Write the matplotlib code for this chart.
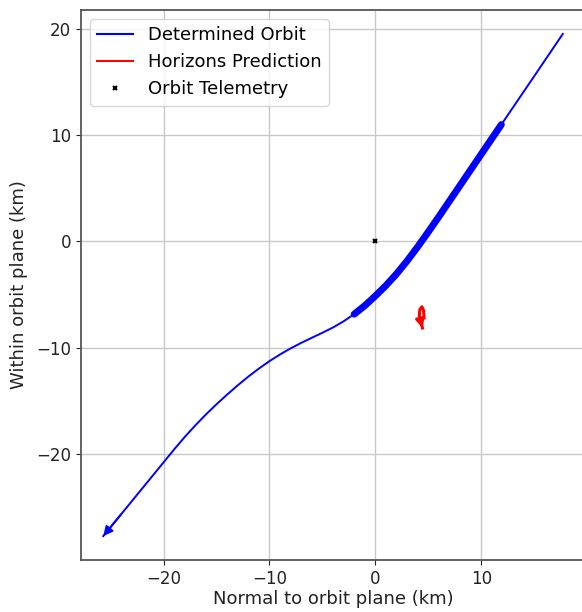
import matplotlib
matplotlib.use("Agg")
import matplotlib.pyplot as plt

# Determined orbit, projected (km): full track, from the far end to the near end
orbit_x = [-25.7, -24.0, -22.0, -20.0, -19.0, -18.0, -17.0, -16.0, -15.0, -14.0,
           -13.0, -12.0, -11.0, -10.0, -9.0, -8.0, -7.0, -6.0, -5.0, -4.0, -3.0,
           -2.0, -1.0, 0.0, 1.0, 2.0, 3.0, 4.0, 5.0, 6.0, 7.0, 8.0, 9.0, 10.0,
           11.0, 11.9, 14.8, 17.7]
orbit_y = [-27.75, -25.68, -23.24, -20.8, -19.58, -18.41, -17.32, -16.29, -15.33,
           -14.42, -13.55, -12.73, -11.97, -11.27, -10.64, -10.07, -9.55, -9.07,
           -8.6, -8.1, -7.52, -6.85, -6.05, -5.13, -4.15, -3.05, -1.83, -0.5, 0.9,
           2.34, 3.81, 5.28, 6.75, 8.22, 9.69, 11.01, 15.27, 19.54]

# Observed arc of the determined orbit (drawn heavier)
arc_x = [-2.0, -1.0, 0.0, 1.0, 2.0, 3.0, 4.0, 5.0, 6.0, 7.0, 8.0, 9.0, 10.0, 11.0, 11.9]
arc_y = [-6.85, -6.05, -5.13, -4.15, -3.05, -1.83, -0.5, 0.9, 2.34, 3.81, 5.28,
         6.75, 8.22, 9.69, 11.01]

# Horizons prediction (km)
hor_x = [4.6, 4.55, 4.4, 4.2, 4.15, 4.3, 4.45]
hor_y = [-7.2, -6.5, -6.15, -6.4, -7.0, -7.6, -8.15]

# Telemetry point
tel_x = [0.0]
tel_y = [0.0]

fig = plt.figure(figsize=(5.82, 6.12), dpi=100)
ax = fig.add_axes([81 / 582, 52 / 612, 504 / 582, 550 / 612])

ax.plot(orbit_x, orbit_y, color="blue", lw=1.4, label="Determined Orbit",
        solid_joinstyle="round", zorder=3)
ax.plot(arc_x, arc_y, color="blue", lw=5, solid_capstyle="round",
        solid_joinstyle="round", zorder=3)
ax.annotate("", xy=(orbit_x[0], orbit_y[0]), xytext=(orbit_x[1], orbit_y[1]),
            arrowprops=dict(arrowstyle="-|>", color="blue", lw=1.4,
                            mutation_scale=14, shrinkA=0, shrinkB=0), zorder=4)

ax.plot(hor_x, hor_y, color="red", lw=2.2, label="Horizons Prediction",
        solid_joinstyle="round", zorder=3)
ax.annotate("", xy=(hor_x[-1], hor_y[-1]), xytext=(hor_x[-2], hor_y[-2]),
            arrowprops=dict(arrowstyle="-|>", color="red", lw=2.2,
                            mutation_scale=12, shrinkA=0, shrinkB=0), zorder=4)

ax.plot(tel_x, tel_y, "kx", ms=3.5, mew=1.5, lw=0, label="Orbit Telemetry", zorder=5)

ax.set_xlim(-27.8, 19.8)
ax.set_ylim(-30.0, 21.8)
ax.set_xticks([-20, -10, 0, 10])
ax.set_yticks([-20, -10, 0, 10, 20])
ax.tick_params(labelsize=12, colors="#222222")
ax.grid(True, color="#c8c8c8", lw=1.0)
for s in ax.spines.values():
    s.set_color("#555555")
    s.set_linewidth(1.3)
ax.spines["right"].set_visible(False)

ax.set_xlabel("Normal to orbit plane (km)", fontsize=13, color="#222222", labelpad=2)
ax.set_ylabel("Within orbit plane (km)", fontsize=13, color="#222222", labelpad=6)

leg = ax.legend(loc="upper left", fontsize=13, handlelength=2.0)
for h in leg.legend_handles[:2]:
    h.set_linewidth(1.5)

fig.savefig("out.png", dpi=100)
